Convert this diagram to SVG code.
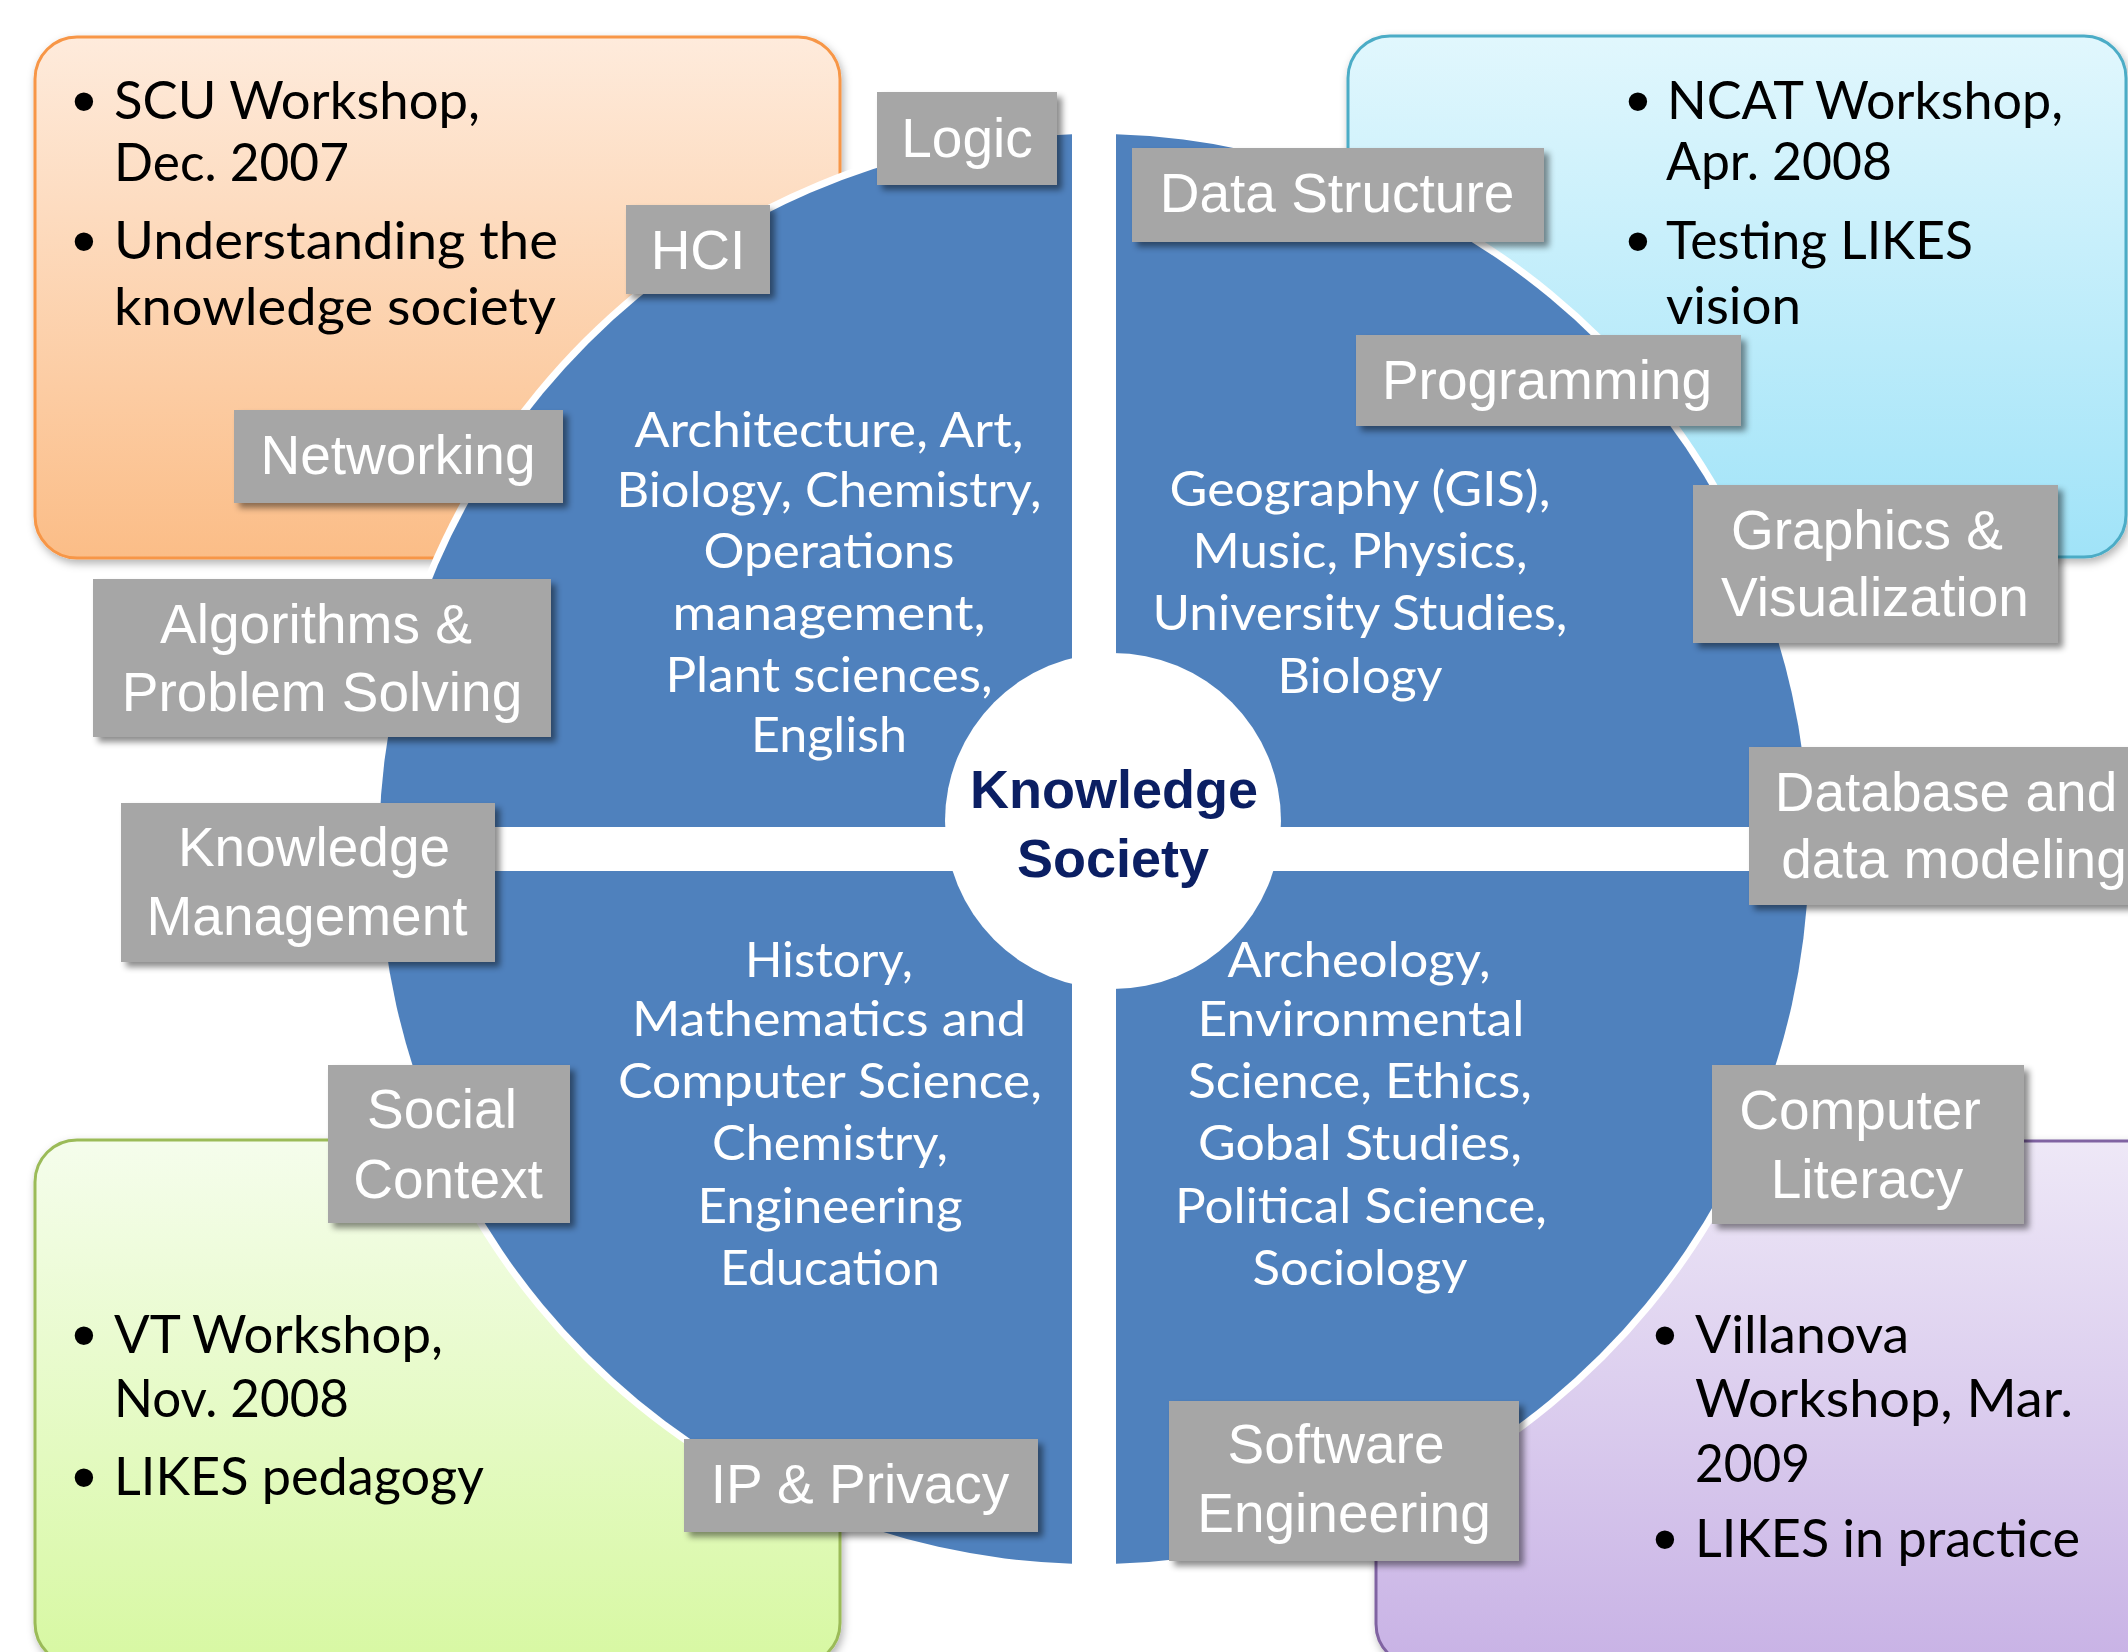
<svg xmlns="http://www.w3.org/2000/svg" width="2128" height="1652" viewBox="0 0 2128 1652">
  <defs>
    <linearGradient id="gOrange" x1="0" y1="0" x2="0" y2="1">
      <stop offset="0" stop-color="#feebdc"/>
      <stop offset="1" stop-color="#fbbd87"/>
    </linearGradient>
    <linearGradient id="gCyan" x1="0" y1="0" x2="0" y2="1">
      <stop offset="0" stop-color="#e1f7fd"/>
      <stop offset="1" stop-color="#a0e3f8"/>
    </linearGradient>
    <linearGradient id="gGreen" x1="0" y1="0" x2="0" y2="1">
      <stop offset="0" stop-color="#f5fdec"/>
      <stop offset="1" stop-color="#d7f8a2"/>
    </linearGradient>
    <linearGradient id="gPurple" x1="0" y1="0" x2="0" y2="1">
      <stop offset="0" stop-color="#eee8f7"/>
      <stop offset="1" stop-color="#c8b2e5"/>
    </linearGradient>
    <filter id="boxShadow" x="-5%" y="-5%" width="110%" height="115%">
      <feDropShadow dx="2" dy="4" stdDeviation="4" flood-color="#000" flood-opacity="0.3"/>
    </filter>
    <filter id="tagShadow" x="-10%" y="-10%" width="125%" height="130%">
      <feDropShadow dx="5" dy="5" stdDeviation="3" flood-color="#000" flood-opacity="0.45"/>
    </filter>
  </defs>
  <style>
    .panel { stroke-width: 3; filter: url(#boxShadow); }
    .quad { fill: #4f81bd; }
    .tag rect { fill: #a6a6a6; filter: url(#tagShadow); }
    .tag text { font-family: "Liberation Sans", Arial, sans-serif; font-size: 55px; fill: #ffffff; text-anchor: middle; }
    .qt { font-family: Lato, "Open Sans", sans-serif; font-size: 49px; fill: #ffffff; text-anchor: middle; }
    .ws { font-family: Lato, "Open Sans", sans-serif; font-size: 52px; fill: #000000; }
    .bul { font-family: "Liberation Sans", Arial, sans-serif; font-size: 68px; fill: #000000; text-anchor: middle; }
    .hub { font-family: "Liberation Sans", Arial, sans-serif; font-size: 54px; font-weight: bold; fill: #0b1f63; text-anchor: middle; }
  </style>

  <rect width="2128" height="1652" fill="#ffffff"/>

  <!-- Workshop panels (behind the wheel) -->
  <g id="workshop-scu">
    <rect class="panel" x="35" y="37" width="805" height="521" rx="42" fill="url(#gOrange)" stroke="#f79646"/>
    <text class="bul" x="84" y="124">•</text>
    <text class="ws" x="114" y="119" textLength="366" lengthAdjust="spacingAndGlyphs">SCU Workshop,</text>
    <text class="ws" x="114" y="181" textLength="235" lengthAdjust="spacingAndGlyphs">Dec. 2007</text>
    <text class="bul" x="84" y="264">•</text>
    <text class="ws" x="114" y="259" textLength="444" lengthAdjust="spacingAndGlyphs">Understanding the</text>
    <text class="ws" x="114" y="325" textLength="442" lengthAdjust="spacingAndGlyphs">knowledge society</text>
  </g>

  <g id="workshop-ncat">
    <rect class="panel" x="1348" y="36" width="778" height="521" rx="42" fill="url(#gCyan)" stroke="#4bacc6"/>
    <text class="bul" x="1638" y="124">•</text>
    <text class="ws" x="1667" y="119" textLength="396" lengthAdjust="spacingAndGlyphs">NCAT Workshop,</text>
    <text class="ws" x="1666" y="180" textLength="226" lengthAdjust="spacingAndGlyphs">Apr. 2008</text>
    <text class="bul" x="1638" y="264">•</text>
    <text class="ws" x="1666" y="259" textLength="307" lengthAdjust="spacingAndGlyphs">Testing LIKES</text>
    <text class="ws" x="1666" y="324" textLength="135" lengthAdjust="spacingAndGlyphs">vision</text>
  </g>

  <g id="workshop-vt">
    <rect class="panel" x="35" y="1140" width="805" height="525" rx="42" fill="url(#gGreen)" stroke="#9bbb59"/>
    <text class="bul" x="84" y="1358">•</text>
    <text class="ws" x="114" y="1353" textLength="329" lengthAdjust="spacingAndGlyphs">VT Workshop,</text>
    <text class="ws" x="114" y="1417" textLength="235" lengthAdjust="spacingAndGlyphs">Nov. 2008</text>
    <text class="bul" x="84" y="1500">•</text>
    <text class="ws" x="114" y="1495" textLength="370" lengthAdjust="spacingAndGlyphs">LIKES pedagogy</text>
  </g>

  <g id="workshop-villanova">
    <rect class="panel" x="1376" y="1141" width="800" height="525" rx="42" fill="url(#gPurple)" stroke="#8064a2"/>
    <text class="bul" x="1665" y="1358">•</text>
    <text class="ws" x="1695" y="1353" textLength="214" lengthAdjust="spacingAndGlyphs">Villanova</text>
    <text class="ws" x="1695" y="1417" textLength="378" lengthAdjust="spacingAndGlyphs">Workshop, Mar.</text>
    <text class="ws" x="1695" y="1482" textLength="115" lengthAdjust="spacingAndGlyphs">2009</text>
    <text class="bul" x="1665" y="1562">•</text>
    <text class="ws" x="1695" y="1557" textLength="385" lengthAdjust="spacingAndGlyphs">LIKES in practice</text>
  </g>

  <!-- Discipline wheel: white halo, four quarters, hub -->
  <circle cx="1094" cy="849" r="722" fill="#ffffff"/>

  <g id="quarter-top-left">
    <path class="quad" d="M1072,827 V134.34 A715,715 0 0,0 379.34,827 Z"/>
    <text class="qt" x="829" y="447" textLength="389" lengthAdjust="spacingAndGlyphs">Architecture, Art,</text>
    <text class="qt" x="829" y="507" textLength="425" lengthAdjust="spacingAndGlyphs">Biology, Chemistry,</text>
    <text class="qt" x="829" y="568" textLength="251" lengthAdjust="spacingAndGlyphs">Operations</text>
    <text class="qt" x="829" y="630" textLength="313" lengthAdjust="spacingAndGlyphs">management,</text>
    <text class="qt" x="829" y="692" textLength="327" lengthAdjust="spacingAndGlyphs">Plant sciences,</text>
    <text class="qt" x="829" y="752" textLength="156" lengthAdjust="spacingAndGlyphs">English</text>
  </g>

  <g id="quarter-top-right">
    <path class="quad" d="M1116,827 H1808.66 A715,715 0 0,0 1116,134.34 Z"/>
    <text class="qt" x="1360" y="506" textLength="381" lengthAdjust="spacingAndGlyphs">Geography (GIS),</text>
    <text class="qt" x="1360" y="568" textLength="335" lengthAdjust="spacingAndGlyphs">Music, Physics,</text>
    <text class="qt" x="1360" y="630" textLength="415" lengthAdjust="spacingAndGlyphs">University Studies,</text>
    <text class="qt" x="1360" y="693" textLength="165" lengthAdjust="spacingAndGlyphs">Biology</text>
  </g>

  <g id="quarter-bottom-left">
    <path class="quad" d="M1072,871 H379.34 A715,715 0 0,0 1072,1563.66 Z"/>
    <text class="qt" x="829" y="977" textLength="168" lengthAdjust="spacingAndGlyphs">History,</text>
    <text class="qt" x="829" y="1036" textLength="394" lengthAdjust="spacingAndGlyphs">Mathematics and</text>
    <text class="qt" x="830" y="1098" textLength="424" lengthAdjust="spacingAndGlyphs">Computer Science,</text>
    <text class="qt" x="830" y="1160" textLength="236" lengthAdjust="spacingAndGlyphs">Chemistry,</text>
    <text class="qt" x="830" y="1223" textLength="265" lengthAdjust="spacingAndGlyphs">Engineering</text>
    <text class="qt" x="830" y="1285" textLength="220" lengthAdjust="spacingAndGlyphs">Education</text>
  </g>

  <g id="quarter-bottom-right">
    <path class="quad" d="M1116,871 V1563.66 A715,715 0 0,0 1808.66,871 Z"/>
    <text class="qt" x="1359" y="977" textLength="263" lengthAdjust="spacingAndGlyphs">Archeology,</text>
    <text class="qt" x="1361" y="1036" textLength="327" lengthAdjust="spacingAndGlyphs">Environmental</text>
    <text class="qt" x="1360" y="1098" textLength="344" lengthAdjust="spacingAndGlyphs">Science, Ethics,</text>
    <text class="qt" x="1360" y="1160" textLength="324" lengthAdjust="spacingAndGlyphs">Gobal Studies,</text>
    <text class="qt" x="1361" y="1223" textLength="372" lengthAdjust="spacingAndGlyphs">Political Science,</text>
    <text class="qt" x="1360" y="1285" textLength="215" lengthAdjust="spacingAndGlyphs">Sociology</text>
  </g>

  <g id="hub">
    <circle cx="1113" cy="821" r="168" fill="#ffffff"/>
    <text class="hub" x="1114" y="808">Knowledge</text>
    <text class="hub" x="1113" y="877">Society</text>
  </g>

  <!-- Computing topic tags -->
  <g id="tag-logic" class="tag">
    <rect x="877" y="92" width="180" height="93"/>
    <text x="967" y="157">Logic</text>
  </g>
  <g id="tag-hci" class="tag">
    <rect x="626" y="205" width="144" height="89"/>
    <text x="698" y="269">HCI</text>
  </g>
  <g id="tag-networking" class="tag">
    <rect x="234" y="410" width="329" height="93"/>
    <text x="398" y="474">Networking</text>
  </g>
  <g id="tag-algorithms" class="tag">
    <rect x="93" y="579" width="458" height="158"/>
    <text x="316" y="643">Algorithms &amp;</text>
    <text x="322" y="711">Problem Solving</text>
  </g>
  <g id="tag-knowledge-management" class="tag">
    <rect x="121" y="803" width="374" height="159"/>
    <text x="314" y="866">Knowledge</text>
    <text x="307" y="935">Management</text>
  </g>
  <g id="tag-social-context" class="tag">
    <rect x="328" y="1065" width="242" height="158"/>
    <text x="442" y="1128">Social</text>
    <text x="448" y="1198">Context</text>
  </g>
  <g id="tag-ip-privacy" class="tag">
    <rect x="684" y="1439" width="354" height="93"/>
    <text x="860" y="1503">IP &amp; Privacy</text>
  </g>
  <g id="tag-data-structure" class="tag">
    <rect x="1132" y="148" width="412" height="94"/>
    <text x="1337" y="212">Data Structure</text>
  </g>
  <g id="tag-programming" class="tag">
    <rect x="1356" y="335" width="385" height="91"/>
    <text x="1547" y="399">Programming</text>
  </g>
  <g id="tag-graphics" class="tag">
    <rect x="1693" y="485" width="365" height="158"/>
    <text x="1867" y="549">Graphics &amp;</text>
    <text x="1875" y="616">Visualization</text>
  </g>
  <g id="tag-database" class="tag">
    <rect x="1749" y="747" width="420" height="158"/>
    <text x="1946" y="811">Database and</text>
    <text x="1954" y="878">data modeling</text>
  </g>
  <g id="tag-computer-literacy" class="tag">
    <rect x="1712" y="1065" width="312" height="159"/>
    <text x="1860" y="1129">Computer</text>
    <text x="1867" y="1198">Literacy</text>
  </g>
  <g id="tag-software-engineering" class="tag">
    <rect x="1169" y="1401" width="350" height="160"/>
    <text x="1336" y="1463">Software</text>
    <text x="1344" y="1532">Engineering</text>
  </g>
</svg>
